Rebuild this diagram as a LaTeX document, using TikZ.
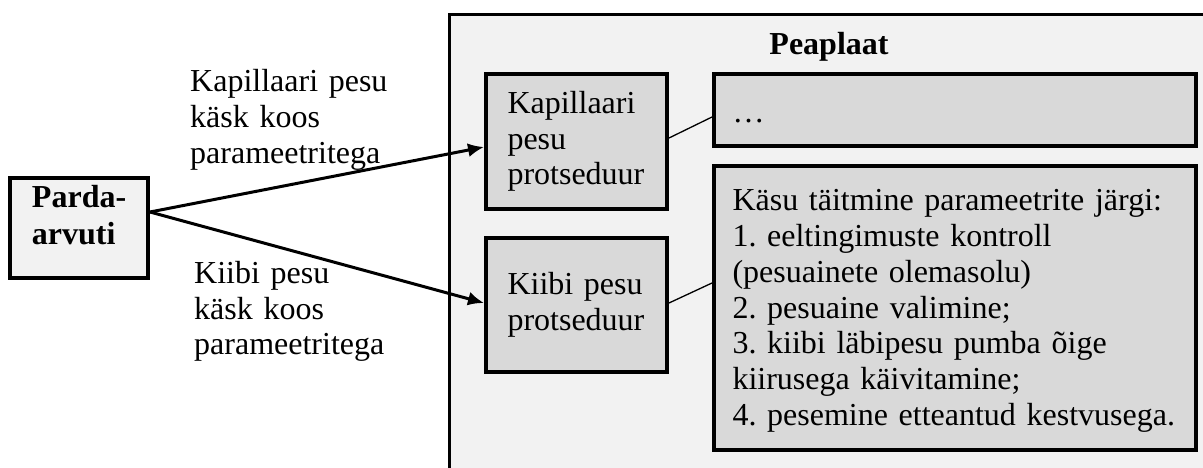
\documentclass[tikz,border=0pt]{standalone}
\usepackage{fontspec}
\setmainfont{Liberation Serif}
\usepackage{tikz}
\usetikzlibrary{backgrounds}
\usetikzlibrary{shapes,arrows,arrows.meta}

\definecolor{boardgray}{HTML}{F2F2F2}
\definecolor{boxgray}{HTML}{D9D9D9}

\tikzstyle{line} = [draw, -{Latex[length=16pt,width=14pt]}, line width=3pt]
\tikzstyle{link} = [draw, line width=1.3pt]
\tikzstyle{board} = [draw, line width=3pt, fill=boardgray]
\tikzstyle{pc} = [rectangle, draw, line width=4pt, fill=boardgray, text width=102pt, inner xsep=18pt, inner ysep=7pt, minimum height=100pt, align=left, font=\fontsize{32}{37.5}\selectfont\bfseries]
\tikzstyle{proc} = [rectangle, draw, line width=4pt, fill=boxgray, text width=138pt, inner xsep=21.5pt, inner ysep=0pt, minimum height=135pt, align=left, font=\fontsize{32}{35.8}\selectfont]
\tikzstyle{task} = [rectangle, draw, line width=4pt, fill=boxgray, text width=445pt, inner xsep=18.5pt, inner ysep=0pt, minimum height=72pt, align=left, font=\fontsize{32}{35.8}\selectfont]
\tikzstyle{cmd} = [text width=200pt, inner sep=0pt, anchor=west, align=left, font=\fontsize{32}{35.8}\selectfont]
\tikzstyle{title} = [font=\fontsize{32}{35.8}\selectfont\bfseries]

\frenchspacing

\begin{document}
\begin{tikzpicture}
			\useasboundingbox (-79pt,228pt) rectangle (1124pt,-239pt);

			% the strut keeps the two lines in the upper part of the box
			\node [pc] (parda) {\hspace*{4pt}Parda-\\\hspace*{4pt}arvuti\rule[-26pt]{0pt}{26pt}};

			\node [proc, right of=parda, node distance=497.5pt, yshift=86.5pt] (kap) {Kapillaari\\pesu\\protseduur};
			\node [proc, below of=kap, node distance=163.5pt, minimum height=134pt] (kiibi) {Kiibi pesu\\protseduur};

			\node [task, right of=kap, node distance=378.5pt, yshift=31.5pt, text height=30pt, text depth=6pt] (dots) {…};
			\node [task, below of=dots, node distance=198pt, minimum height=284pt, text height=27pt] (steps) {Käsu täitmine parameetrite järgi:\\1. eeltingimuste kontroll\\(pesuainete olemasolu)\\2. pesuaine valimine;\\3. kiibi läbipesu pumba õige\\kiirusega käivitamine;\\4. pesemine etteantud kestvusega.};

			\node [title, above of=dots, node distance=63pt, xshift=-126pt] (peaplaat) {Peaplaat};

			% commands sent from the PC
			\node [cmd] (kapcmd) at ([xshift=40pt,yshift=108pt]parda.east) {Kapillaari pesu\\käsk koos\\parameetritega};
			\node [cmd] (kiibicmd) at ([xshift=44pt,yshift=-83.5pt]parda.east) {Kiibi pesu\\käsk koos\\parameetritega};

			\path [line] ([yshift=16pt]parda.east) to ([yshift=-5.5pt]kap.west);
			\path [line] ([yshift=16pt]parda.east) to ([yshift=2pt]kiibi.west);

			\path [link] ([yshift=3.5pt]kap.east) to ([yshift=-7pt]dots.west);
			\path [link] ([yshift=2pt]kiibi.east) to ([yshift=25pt]steps.west);

			\begin{scope}[on background layer]
				\path [board] ([xshift=-35pt,yshift=58pt]kap.north west) rectangle ([xshift=40pt,yshift=-40pt]steps.south east);
			\end{scope}
		\end{tikzpicture}
\end{document}
